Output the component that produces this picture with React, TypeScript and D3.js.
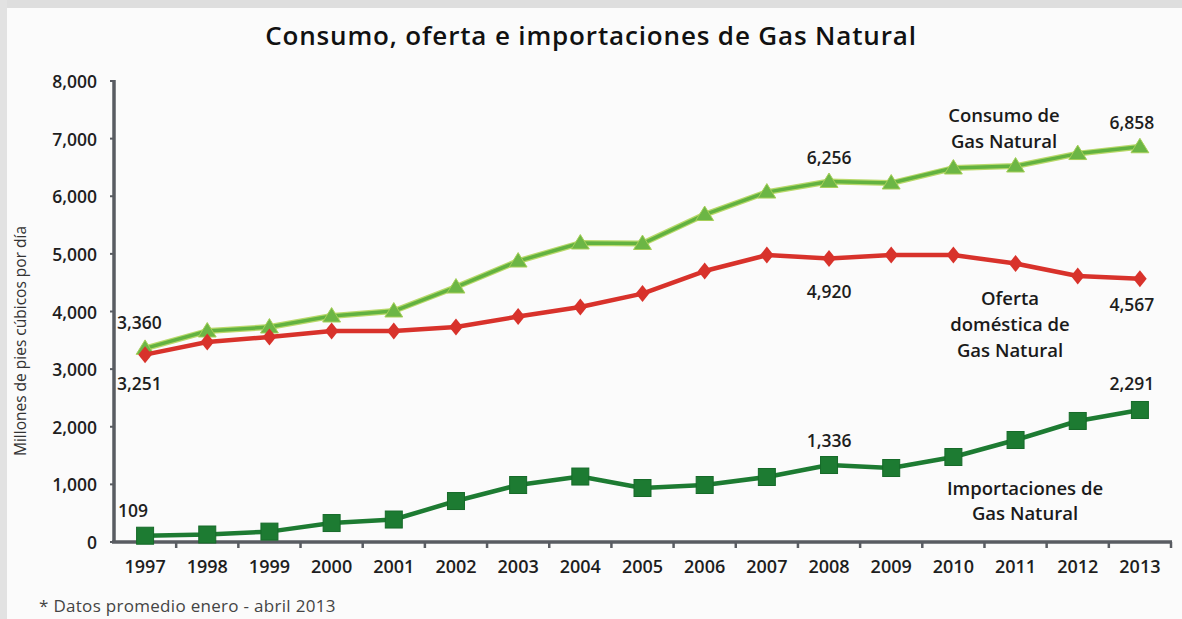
import React from "react";
import * as d3 from "d3";

const years = ["1997","1998","1999","2000","2001","2002","2003","2004","2005","2006","2007","2008","2009","2010","2011","2012","2013"];
const consumo = [3360,3661,3730,3921,4008,4424,4875,5188,5179,5682,6072,6256,6229,6489,6524,6740,6858];
const oferta = [3251,3470,3557,3661,3661,3730,3912,4077,4311,4702,4979,4920,4979,4979,4832,4615,4567];
const importaciones = [109,130,180,329,390,711,989,1136,937,989,1128,1336,1284,1475,1770,2100,2291];
const yTicks = [0,1000,2000,3000,4000,5000,6000,7000,8000];

const W = 1182, H = 619;
const FONT = "'Open Sans', 'DejaVu Sans', sans-serif";

export default function App() {
  const x = d3.scaleBand<string>().domain(years).range([114, 1171]);
  const y = d3.scaleLinear().domain([0, 8000]).range([542, 81]);
  const cx = (i: number) => (x(years[i]) as number) + x.bandwidth() / 2;
  const line = d3.line<number>().x((_, i) => cx(i)).y((d) => y(d));
  const fmt = d3.format(",");

  const tri = (px: number, py: number, s: number) =>
    `M${px},${py - s}L${px + s * 1.05},${py + s * 0.7}L${px - s * 1.05},${py + s * 0.7}Z`;
  const dia = (px: number, py: number, s: number) =>
    `M${px},${py - s}L${px + s * 0.8},${py}L${px},${py + s}L${px - s * 0.8},${py}Z`;

  const label = (txt: string, px: number, py: number, anchor: string = "middle") => (
    <text x={px} y={py} textAnchor={anchor} dominantBaseline="central" fontSize={17.5} fontWeight={600} fill="#1e1e1e">{txt}</text>
  );

  return (
    <svg width={W} height={H} style={{ position: "absolute", left: 0, top: 0, fontFamily: FONT }}>
      <rect x={0} y={0} width={W} height={H} fill="#fbfbfb" />
      <rect x={0} y={0} width={W} height={8} fill="#dedede" />
      <rect x={0} y={0} width={7} height={H} fill="#e2e2e2" />

      <text x={591} y={35} textAnchor="middle" dominantBaseline="central" fontSize={26} fontWeight={600} letterSpacing={0.85} fill="#111">
        Consumo, oferta e importaciones de Gas Natural
      </text>

      {/* Y axis title */}
      <text transform={`translate(20,341) rotate(-90)`} textAnchor="middle" dominantBaseline="central" fontSize={15.5} fill="#333">
        Millones de pies cúbicos por día
      </text>

      {/* Y axis */}
      <line x1={114} x2={114} y1={80} y2={543} stroke="#595c62" strokeWidth={3.5} />
      {yTicks.map((t) => (
        <g key={t}>
          <line x1={110} x2={114} y1={y(t)} y2={y(t)} stroke="#595c62" strokeWidth={2} />
          <text x={97} y={y(t)} textAnchor="end" dominantBaseline="central" fontSize={17.5} fontWeight={600} fill="#1e1e1e">{fmt(t)}</text>
        </g>
      ))}

      {/* X axis */}
      <line x1={112} x2={1172} y1={542} y2={542} stroke="#595c62" strokeWidth={3.5} />
      {years.map((yr, i) => (
        <g key={yr}>
          {i > 0 && <line x1={x(yr) as number} x2={x(yr) as number} y1={542} y2={548} stroke="#595c62" strokeWidth={2.5} />}
          <text x={cx(i)} y={566} textAnchor="middle" dominantBaseline="central" fontSize={18} fontWeight={600} fill="#1e1e1e">{yr}</text>
        </g>
      ))}
      <line x1={1171} x2={1171} y1={542} y2={548} stroke="#595c62" strokeWidth={2.5} />

      {/* Consumo */}
      <path d={line(consumo) as string} fill="none" stroke="#b9d96a" strokeWidth={6} strokeLinejoin="round" />
      <path d={line(consumo) as string} fill="none" stroke="#62b240" strokeWidth={3.5} strokeLinejoin="round" />
      {consumo.map((v, i) => (
        <path key={i} d={tri(cx(i), y(v), 8.5)} fill="#6cb645" stroke="#a6cf58" strokeWidth={1} />
      ))}

      {/* Oferta */}
      <path d={line(oferta) as string} fill="none" stroke="#d8322b" strokeWidth={4.5} strokeLinejoin="round" />
      {oferta.map((v, i) => (
        <path key={i} d={dia(cx(i), y(v), 8.5)} fill="#d8322b" />
      ))}

      {/* Importaciones */}
      <path d={line(importaciones) as string} fill="none" stroke="#1d7b32" strokeWidth={4.5} strokeLinejoin="round" />
      {importaciones.map((v, i) => (
        <rect key={i} x={cx(i) - 8.5} y={y(v) - 8.5} width={17} height={17} fill="#1d7b32" stroke="#166a29" strokeWidth={1} />
      ))}

      {/* Data labels */}
      {label(fmt(consumo[0]), 117, 322, "start")}
      {label(fmt(oferta[0]), 117, 383, "start")}
      {label(fmt(importaciones[0]), 118, 510, "start")}
      {label(fmt(consumo[11]), cx(11), 157)}
      {label(fmt(oferta[11]), cx(11), 291)}
      {label(fmt(importaciones[11]), cx(11), 440)}
      {label(fmt(consumo[16]), cx(16) - 8, 122)}
      {label(fmt(oferta[16]), cx(16) - 8, 304)}
      {label(fmt(importaciones[16]), cx(16) - 8, 383)}

      {/* Series labels */}
      <g fontSize={18.5} fontWeight={600} fill="#1a1a1a" textAnchor="middle">
        <text x={1004} y={114} dominantBaseline="central">Consumo de</text>
        <text x={1004} y={140} dominantBaseline="central">Gas Natural</text>
        <text x={1010} y={297} dominantBaseline="central">Oferta</text>
        <text x={1010} y={323} dominantBaseline="central">doméstica de</text>
        <text x={1010} y={349} dominantBaseline="central">Gas Natural</text>
        <text x={1025} y={487} dominantBaseline="central">Importaciones de</text>
        <text x={1025} y={512} dominantBaseline="central">Gas Natural</text>
      </g>

      <text x={39} y={605} dominantBaseline="central" fontSize={17} letterSpacing={0.3} fill="#444">* Datos promedio enero - abril 2013</text>
    </svg>
  );
}
